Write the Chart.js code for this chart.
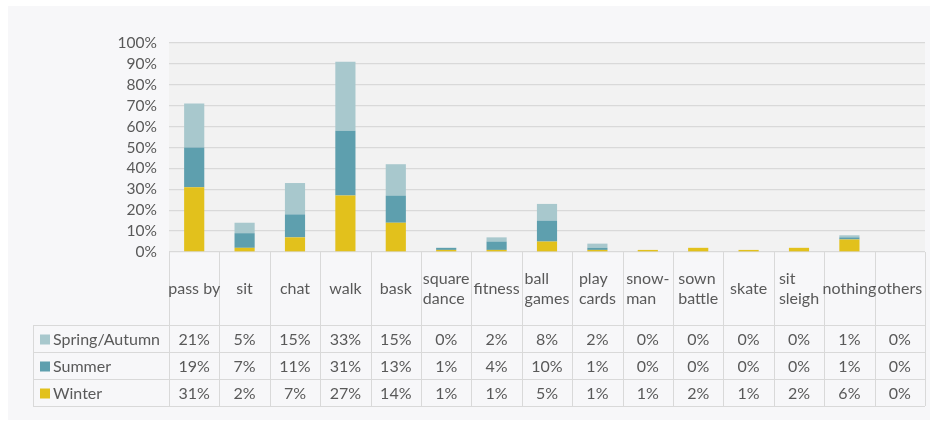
<!DOCTYPE html>
<html>
<head>
<meta charset="utf-8">
<script src="https://cdn.jsdelivr.net/npm/chart.js@4"></script>
<style>
  html, body { margin: 0; padding: 0; background: #ffffff; }
  #wrap { width: 935px; height: 426px; }
</style>
</head>
<body>
<div id="wrap"><canvas id="myChart" width="935" height="426"></canvas></div>
<script>
// categories (multi-line headers for the data table)
const categories = [
   ['pass by'], ['sit'], ['chat'], ['walk'], ['bask'], ['square', 'dance'], ['fitness'],
   ['ball', 'games'], ['play', 'cards'], ['snow-', 'man'], ['sown', 'battle'], ['skate'],
   ['sit', 'sleigh'], ['nothing'], ['others']
];
const seriesNames = ['Spring/Autumn', 'Summer', 'Winter'];
const springAutumn = [21, 5, 15, 33, 15, 0, 2, 8, 2, 0, 0, 0, 0, 1, 0];
const summer = [19, 7, 11, 31, 13, 1, 4, 10, 1, 0, 0, 0, 0, 1, 0];
const winter = [31, 2, 7, 27, 14, 1, 1, 5, 1, 1, 2, 1, 2, 6, 0];
const yTicks = [0, 10, 20, 30, 40, 50, 60, 70, 80, 90, 100];

const colors = { spring: '#a8c8cd', summer: '#5e9fae', winter: '#e2c11c' };
const textColor = '#595959',
   lineColor = '#d9d9d9',
   fontFamily = 'Lato, "Open Sans", sans-serif';

// rows of the table, top to bottom
const tableRows = [
   { name: seriesNames[0], data: springAutumn, color: colors.spring },
   { name: seriesNames[1], data: summer, color: colors.summer },
   { name: seriesNames[2], data: winter, color: colors.winter },
];

const bgPlugin = {
   id: 'bg',
   beforeDraw(chart) {
      const { ctx, chartArea } = chart;
      ctx.save();
      ctx.fillStyle = '#f7f7f9';
      ctx.fillRect(8, 6, 922, 414);
      ctx.fillStyle = '#f2f2f2';
      ctx.fillRect(chartArea.left, chartArea.top, chartArea.right - chartArea.left, chartArea.bottom - chartArea.top);
      ctx.restore();
   }
};

// data table under the plot, columns follow the x scale
const tablePlugin = {
   id: 'dataTable',
   afterDraw(chart) {
      const { ctx, chartArea, scales } = chart;
      const x = scales.x;
      const n = categories.length;
      const colW = (chartArea.right - chartArea.left) / n;
      const top = chartArea.bottom,
         headH = 73,
         rowH = 27,
         legLeft = 33;
      const rowsTop = top + headH,
         bottom = rowsTop + rowH * tableRows.length;

      ctx.save();
      ctx.strokeStyle = lineColor;
      ctx.lineWidth = 1;
      ctx.beginPath();
      // vertical lines
      for (let i = 0; i <= n; i++) {
         const px = Math.round(x.getPixelForValue(0) - colW / 2 + i * colW) + 0.5;
         ctx.moveTo(px, top);
         ctx.lineTo(px, bottom);
      }
      ctx.moveTo(legLeft + 0.5, rowsTop);
      ctx.lineTo(legLeft + 0.5, bottom);
      // horizontal lines
      for (let r = 0; r <= tableRows.length; r++) {
         const py = Math.round(rowsTop + r * rowH) + 0.5;
         ctx.moveTo(legLeft, py);
         ctx.lineTo(chartArea.right, py);
      }
      ctx.stroke();

      ctx.fillStyle = textColor;
      ctx.font = '16px ' + fontFamily;
      ctx.textBaseline = 'middle';
      // headers
      categories.forEach((lines, i) => {
         const cx = x.getPixelForValue(i);
         const w = Math.max(...lines.map(l => ctx.measureText(l).width));
         const lh = 20;
         const y0 = top + headH / 2 - (lines.length - 1) * lh / 2;
         ctx.textAlign = 'left';
         lines.forEach((l, k) => ctx.fillText(l, cx - w / 2, y0 + k * lh));
      });
      // rows
      tableRows.forEach((row, r) => {
         const cy = rowsTop + r * rowH + rowH / 2 + 1;
         ctx.fillStyle = row.color;
         ctx.fillRect(legLeft + 7, cy - 5, 10, 10);
         ctx.fillStyle = textColor;
         ctx.textAlign = 'left';
         ctx.fillText(row.name, legLeft + 20, cy);
         ctx.textAlign = 'center';
         row.data.forEach((v, i) => {
            ctx.fillText(v + '%', x.getPixelForValue(i), cy);
         });
      });
      ctx.restore();
   }
};

Chart.defaults.font.family = fontFamily;
Chart.defaults.font.size = 15.5;
Chart.defaults.color = textColor;

new Chart(document.getElementById('myChart'), {
   type: 'bar',
   data: {
      labels: categories,
      datasets: [
         { label: seriesNames[2], data: winter, backgroundColor: colors.winter },
         { label: seriesNames[1], data: summer, backgroundColor: colors.summer },
         { label: seriesNames[0], data: springAutumn, backgroundColor: colors.spring },
      ]
   },
   options: {
      responsive: false,
      animation: false,
      layout: { padding: { top: 43, right: 10, bottom: 174, left: 0 } },
      plugins: {
         legend: { display: false },
         tooltip: { enabled: false }
      },
      datasets: {
         bar: { categoryPercentage: 1, barPercentage: 0.4, borderWidth: 0 }
      },
      scales: {
         x: {
            stacked: true,
            display: false
         },
         y: {
            stacked: true,
            min: 0,
            max: 100,
            afterFit(scale) { scale.width = 169; },
            afterBuildTicks(scale) { scale.ticks = yTicks.map(v => ({ value: v })); },
            ticks: {
               padding: 12,
               autoSkip: false,
               callback: v => v + '%'
            },
            grid: { color: lineColor, lineWidth: 1.3, drawTicks: false },
            border: { display: false }
         }
      }
   },
   plugins: [bgPlugin, tablePlugin]
});
</script>
</body>
</html>
